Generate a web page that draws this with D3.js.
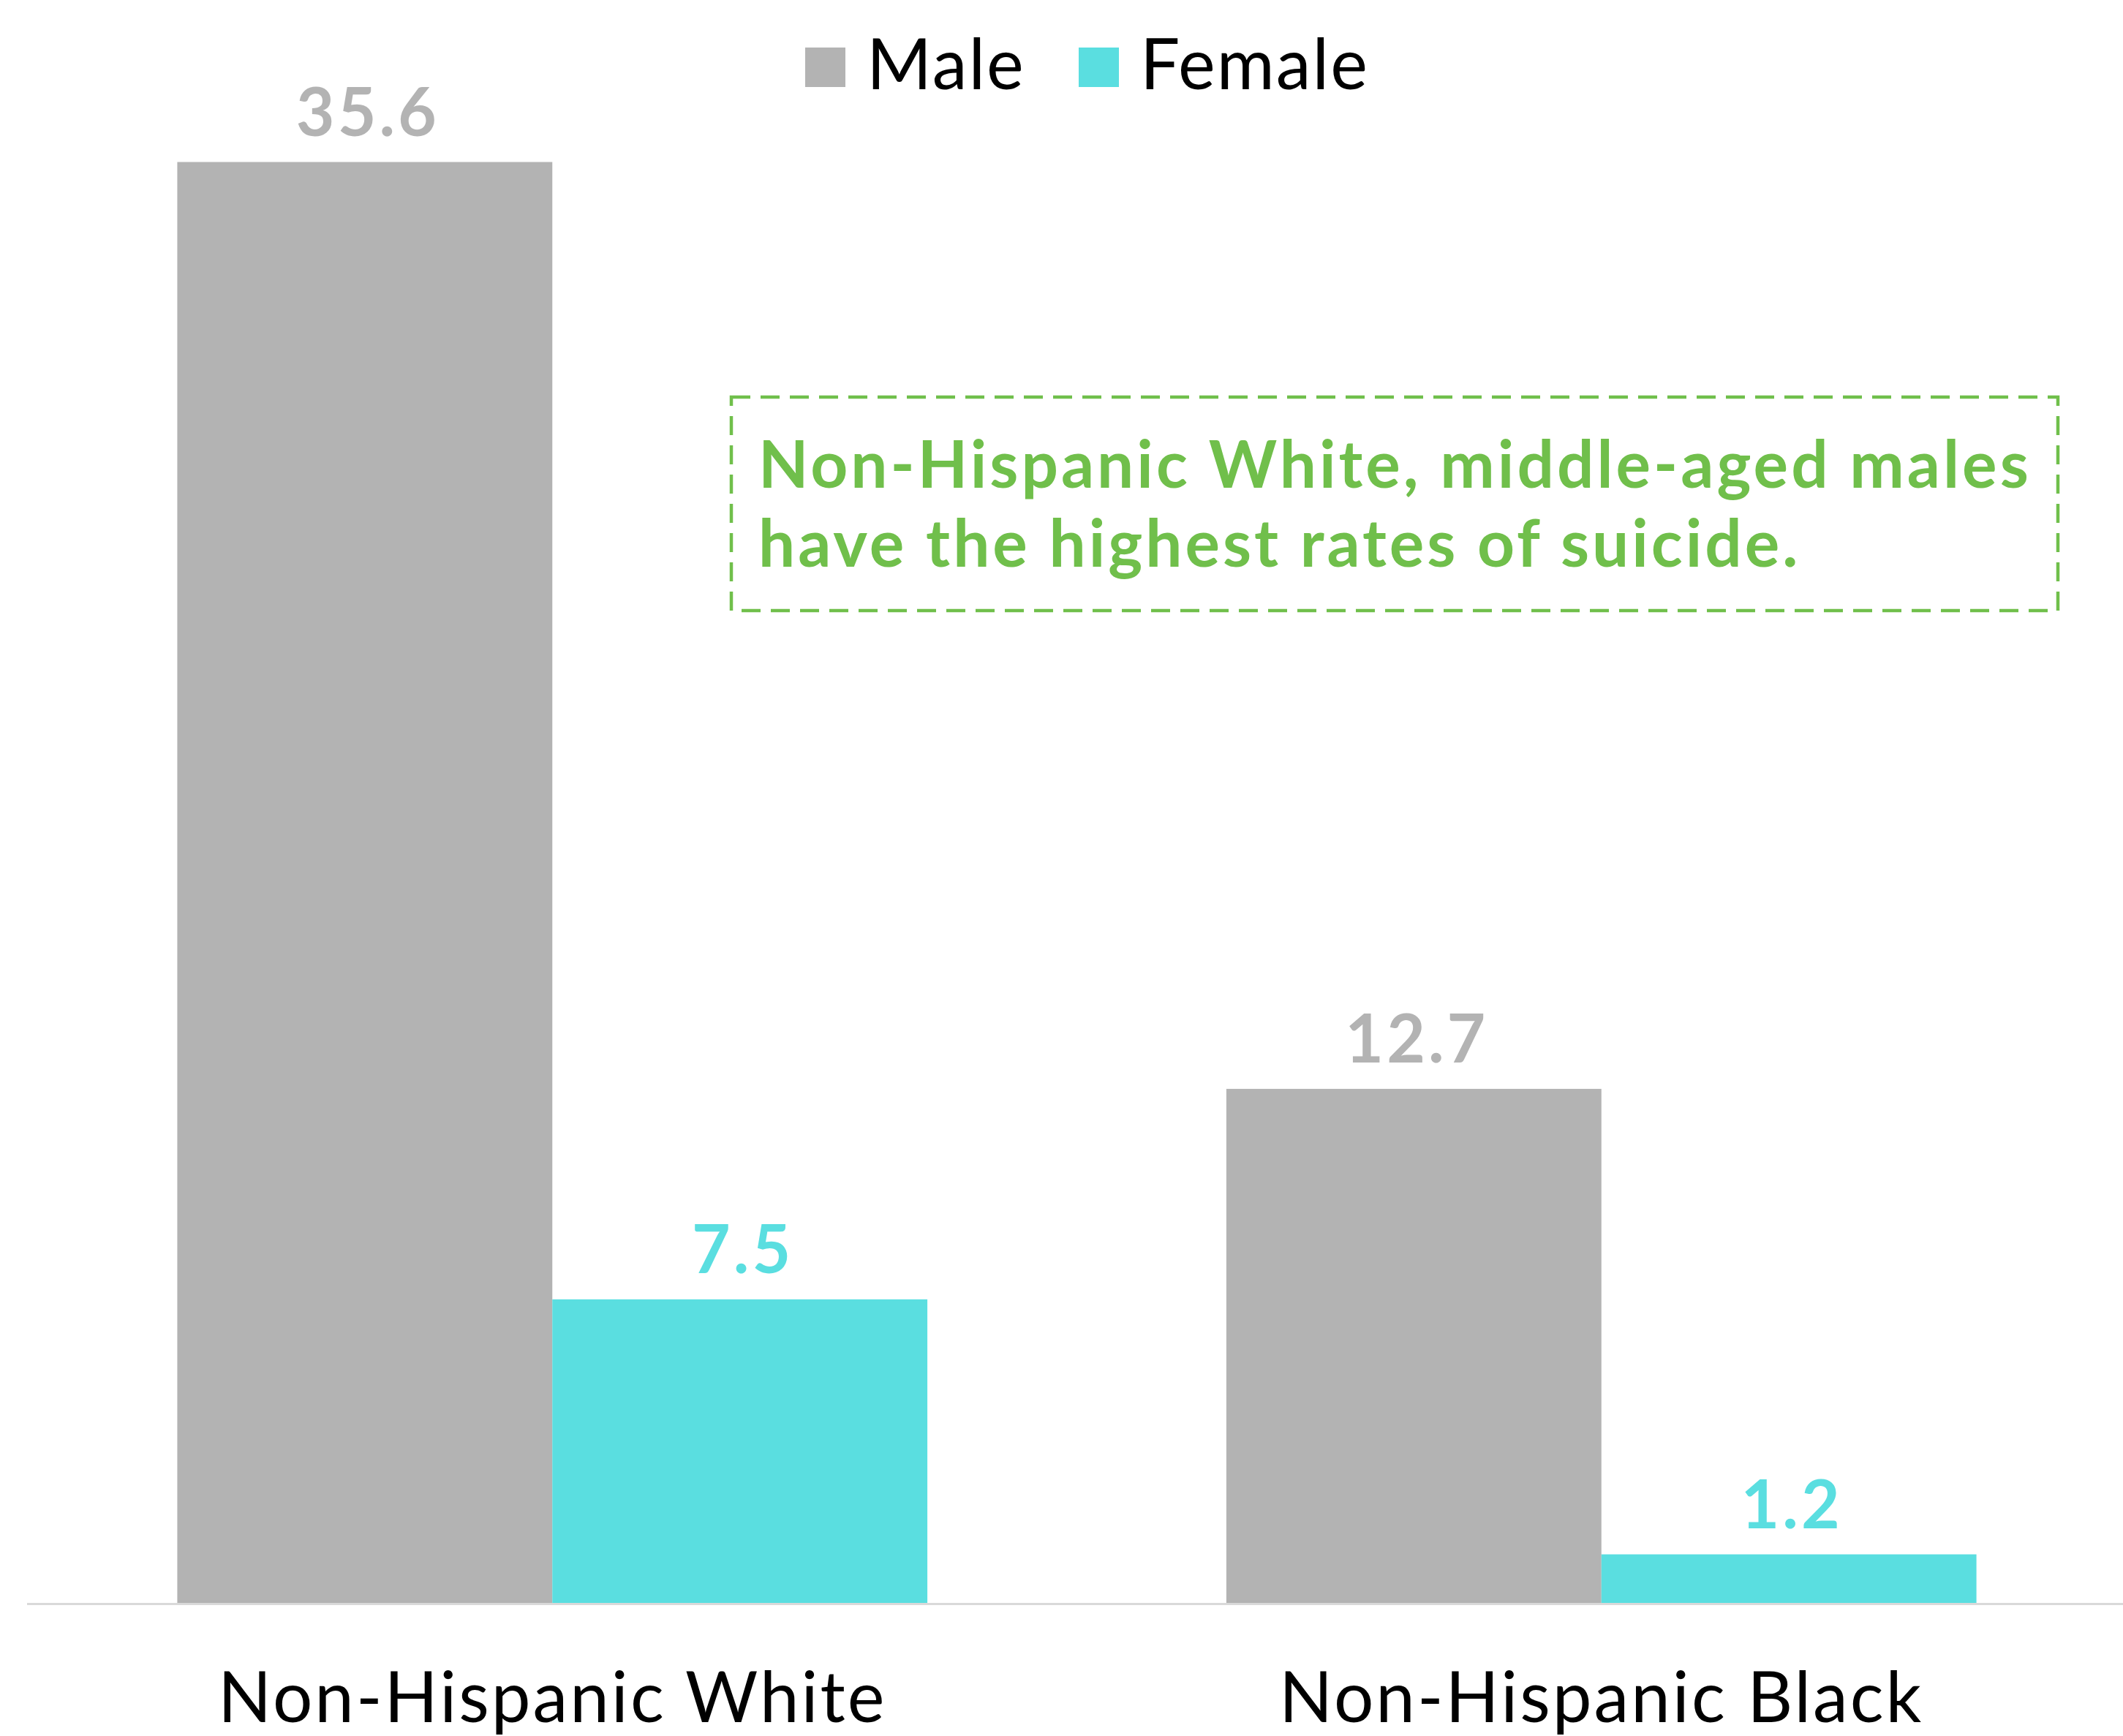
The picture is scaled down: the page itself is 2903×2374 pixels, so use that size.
<!DOCTYPE html>
<html>
<head>
<meta charset="utf-8">
<script src="https://cdn.jsdelivr.net/npm/d3@7"></script>
<style>
  html, body { margin: 0; padding: 0; background: #fff; }
  svg { display: block; font-family: Lato, "Open Sans", sans-serif; }
</style>
</head>
<body>
<svg id="chart"></svg>
<script>
const categories = ['Non-Hispanic White', 'Non-Hispanic Black'];
const seriesNames = ['Male', 'Female'];
const maleValues = [35.6, 12.7];
const femaleValues = [7.5, 1.2];
const noteLines = ['Non-Hispanic White, middle-aged males', 'have the highest rates of suicide.'];

const width = 2903, height = 2374;
const color = { Male: '#b3b3b3', Female: '#5adee0', note: '#70bf4b', axis: '#d9d9d9' };
const baseY = 2192;

const svg = d3.select('#chart').attr('width', width).attr('height', height);

const x0 = d3.scaleBand().domain(categories).range([38, width + 4]).paddingInner(0.285).paddingOuter(0.1425);
const x1 = d3.scaleBand().domain(seriesNames).range([0, x0.bandwidth()]);
const y = d3.scaleLinear().domain([0, 40]).range([baseY, -22]);

const rows = categories.map((c, i) => ({ cat: c, vals: [
  { s: 'Male', v: maleValues[i] },
  { s: 'Female', v: femaleValues[i] }
]}));

// bars
const groups = svg.append('g').selectAll('g')
    .data(rows)
    .enter()
    .append('g')
    .attr('transform', d => `translate(${x0(d.cat)},0)`);

groups.selectAll('rect')
    .data(d => d.vals)
    .enter()
    .append('rect')
    .attr('x', d => x1(d.s))
    .attr('width', x1.bandwidth())
    .attr('y', d => y(d.v))
    .attr('height', d => baseY - y(d.v))
    .attr('fill', d => color[d.s]);

// value labels
groups.selectAll('text')
    .data(d => d.vals)
    .enter()
    .append('text')
    .attr('x', d => x1(d.s) + x1.bandwidth() / 2 + 4)
    .attr('y', d => y(d.v) - 36)
    .attr('text-anchor', 'middle')
    .attr('fill', d => color[d.s])
    .style('font-weight', 700)
    .style('font-size', '91px')
    .style('letter-spacing', '4px')
    .text(d => d.v.toFixed(1));

// baseline
svg.append('line')
    .attr('x1', 37).attr('x2', width)
    .attr('y1', baseY + 1.5).attr('y2', baseY + 1.5)
    .attr('stroke', color.axis)
    .attr('stroke-width', 3);

// category labels
const xAxis = d3.axisBottom(x0).tickSize(0).tickPadding(0);
const ax = svg.append('g').attr('transform', `translate(0,${baseY})`).call(xAxis);
ax.select('.domain').remove();
ax.selectAll('text')
    .attr('dy', null)
    .attr('y', 163)
    .attr('fill', '#000')
    .style('font-size', '96px')
    .style('letter-spacing', '3px')
    .style('font-family', 'Lato, sans-serif');

// legend
const legend = svg.append('g');
const legendX = [1101, 1475];
seriesNames.forEach((s, i) => {
  legend.append('rect')
      .attr('x', legendX[i]).attr('y', 65)
      .attr('width', 55).attr('height', 54)
      .attr('fill', color[s]);
  legend.append('text')
      .attr('x', legendX[i] + 84).attr('y', 122)
      .attr('fill', '#000')
      .style('font-size', '96px')
      .style('letter-spacing', '2px')
      .text(s);
});

// annotation
svg.append('rect')
    .attr('x', 1000).attr('y', 543)
    .attr('width', 1814).attr('height', 292)
    .attr('fill', 'none')
    .attr('stroke', color.note)
    .attr('stroke-width', 4.5)
    .attr('stroke-dasharray', '26,14');

svg.append('g').selectAll('text')
    .data(noteLines)
    .enter()
    .append('text')
    .attr('x', 1037)
    .attr('y', (d, i) => 667 + i * 108)
    .attr('fill', color.note)
    .style('font-weight', 700)
    .style('font-size', '89px')
    .style('letter-spacing', '4px')
    .text(d => d);
</script>
</body>
</html>
